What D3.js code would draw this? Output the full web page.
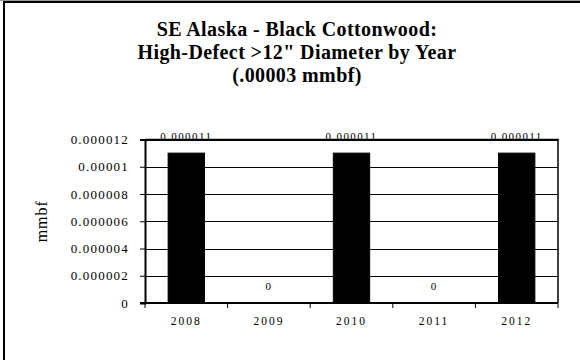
<!DOCTYPE html>
<html>
<head>
<meta charset="utf-8">
<script src="https://cdn.jsdelivr.net/npm/d3@7"></script>
<style>
  body { margin: 0; background: #fff; }
</style>
</head>
<body>
<svg id="chart" width="580" height="360"></svg>
<script>
  let years = ["2008", "2009", "2010", "2011", "2012"];
  let volumes = [0.000011, 0, 0.000011, 0, 0.000011];
  let yTicks = [0, 0.000002, 0.000004, 0.000006, 0.000008, 0.00001, 0.000012];
  let yTickLabels = ["0", "0.000002", "0.000004", "0.000006", "0.000008", "0.00001", "0.000012"];
  let barLabels = ["0.000011", "0", "0.000011", "0", "0.000011"];
  let titleLines = [
    "SE Alaska - Black Cottonwood:",
    "High-Defect >12\" Diameter by Year",
    "(.00003 mmbf)"
  ];

  let svg = d3.select("#chart");
  let serif = "Liberation Serif, serif";

  let plotLeft = 145, plotRight = 558, plotTop = 139.5, plotBottom = 303;

  // outer chart frame (only top and left edges show)
  svg.append("line")
    .attr("x1", 0).attr("x2", 580).attr("y1", 0.5).attr("y2", 0.5)
    .style("stroke", "#999").style("stroke-width", 1);
  svg.append("path")
    .attr("d", "M4,360V2H580")
    .style("fill", "none")
    .style("stroke", "#000")
    .style("stroke-width", 2);

  // title
  titleLines.forEach((t, i) => {
    svg.append("text")
      .attr("x", 297)
      .attr("y", 35.5 + 23 * i)
      .text(t)
      .style("font-family", serif)
      .style("font-size", "20px")
      .style("letter-spacing", "0.4px")
      .style("font-weight", "bold")
      .style("text-anchor", "middle")
      .style("fill", "#000");
  });

  let x = d3.scaleBand()
    .domain(years)
    .range([plotLeft, plotRight])
    .paddingInner(0.56)
    .paddingOuter(0.28);

  let y = d3.scaleLinear()
    .domain([0, 0.000012])
    .range([plotBottom, plotTop]);

  // gridlines
  svg.append("g")
    .selectAll("line")
    .data(yTicks.slice(1))
    .enter().append("line")
      .attr("x1", plotLeft)
      .attr("x2", plotRight)
      .attr("y1", (d) => Math.round(y(d)) + 0.5)
      .attr("y2", (d) => Math.round(y(d)) + 0.5)
      .style("stroke", "#000")
      .style("stroke-width", 1);

  // right border of plot area
  svg.append("line")
    .attr("x1", plotRight).attr("x2", plotRight)
    .attr("y1", plotTop).attr("y2", plotBottom)
    .style("stroke", "#000").style("stroke-width", 1.5);

  // bars
  svg.append("g")
    .selectAll("rect")
    .data(volumes)
    .enter().append("rect")
      .attr("x", (d, i) => x(years[i]))
      .attr("y", (d) => y(d))
      .attr("width", x.bandwidth())
      .attr("height", (d) => plotBottom - y(d))
      .style("fill", "#000")
      .style("stroke", "#000")
      .style("stroke-width", 1);

  // y axis
  let yAxis = svg.append("g")
    .attr("transform", "translate(" + plotLeft + ",0)")
    .call(d3.axisLeft(y)
      .tickValues(yTicks)
      .tickSize(5)
      .tickPadding(11)
      .tickFormat((d, i) => yTickLabels[i]));
  yAxis.select(".domain").style("stroke-width", 2);
  yAxis.selectAll("text")
    .style("font-family", serif)
    .style("font-size", "13px")
    .style("letter-spacing", "1.2px")
    .style("fill", "#000");

  // x axis, ticks sit on category boundaries
  let xAxis = svg.append("g")
    .attr("transform", "translate(0," + plotBottom + ")");
  xAxis.append("line")
    .attr("x1", plotLeft - 5).attr("x2", plotRight)
    .style("stroke", "#000").style("stroke-width", 2);
  let bounds = d3.range(years.length + 1).map((i) => plotLeft + i * (plotRight - plotLeft) / years.length);
  xAxis.selectAll(".xtick")
    .data(bounds)
    .enter().append("line")
      .attr("class", "xtick")
      .attr("x1", (d) => d).attr("x2", (d) => d)
      .attr("y1", 0).attr("y2", 5)
      .style("stroke", "#000").style("stroke-width", 1);
  xAxis.selectAll(".xlabel")
    .data(years)
    .enter().append("text")
      .attr("class", "xlabel")
      .attr("x", (d) => x(d) + x.bandwidth() / 2)
      .attr("y", 22)
      .text((d) => d)
      .style("font-family", serif)
      .style("font-size", "11.5px")
      .style("letter-spacing", "2px")
      .style("text-anchor", "middle")
      .style("fill", "#000");

  // top border of plot area
  svg.append("line")
    .attr("x1", plotLeft).attr("x2", plotRight + 0.75)
    .attr("y1", plotTop).attr("y2", plotTop)
    .style("stroke", "#000").style("stroke-width", 1.5);

  // value labels
  svg.append("g")
    .selectAll("text")
    .data(volumes)
    .enter().append("text")
      .attr("x", (d, i) => x(years[i]) + x.bandwidth() / 2)
      .attr("y", (d) => y(d) - 13)
      .text((d, i) => barLabels[i])
      .style("font-family", serif)
      .style("font-size", "11px")
      .style("letter-spacing", "1.4px")
      .style("text-anchor", "middle")
      .style("fill", "#000");

  // y axis title
  svg.append("text")
    .attr("transform", "translate(47," + ((plotTop + plotBottom) / 2) + ") rotate(-90)")
    .text("mmbf")
    .style("font-family", serif)
    .style("font-size", "16px")
    .style("letter-spacing", "1px")
    .style("text-anchor", "middle")
    .style("fill", "#000");
</script>
</body>
</html>
